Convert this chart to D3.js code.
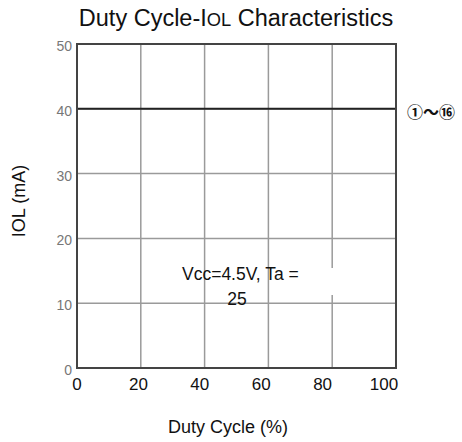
<!DOCTYPE html>
<html><head><meta charset="utf-8">
<script src="https://cdn.jsdelivr.net/npm/d3@7"></script>
<style>body{margin:0;background:#fff}</style>
</head><body>
<svg id="c" width="462" height="442"></svg>
<script>
const xTicks = [0, 20, 40, 60, 80, 100];
const yTicks = [0, 10, 20, 30, 40, 50];
const dutyCycle = [0, 100];
const iol = [40, 40];
const titleParts = [["Duty Cycle-I", 1], ["OL", 0.78], [" Characteristics", 1]];

const svg = d3.select("#c");
const m = {l: 77, r: 396, t: 44, b: 368};
const x = d3.scaleLinear().domain([0, 100]).range([m.l, m.r]);
const xLab = d3.scaleLinear().domain([0, 100]).range([m.l, m.r - 12]);
const y = d3.scaleLinear().domain([0, 50]).range([m.b, m.t]);
const font = "Liberation Sans, Arial, sans-serif";

// grid
svg.append("g").selectAll("line").data(xTicks.slice(1, -1)).join("line")
  .attr("x1", d => x(d)).attr("x2", d => x(d)).attr("y1", m.t).attr("y2", m.b)
  .attr("stroke", "#9a9a9a").attr("stroke-width", 1.5);
svg.append("g").selectAll("line").data(yTicks.slice(1, -1)).join("line")
  .attr("x1", m.l).attr("x2", m.r).attr("y1", d => y(d)).attr("y2", d => y(d))
  .attr("stroke", "#9a9a9a").attr("stroke-width", 1.5);

// data line
const line = d3.line().x((d, i) => x(dutyCycle[i])).y(d => y(d));
svg.append("path").datum(iol).attr("d", line)
  .attr("fill", "none").attr("stroke", "#222").attr("stroke-width", 2);

// frame
svg.append("rect").attr("x", m.l).attr("y", m.t).attr("width", m.r - m.l).attr("height", m.b - m.t)
  .attr("fill", "none").attr("stroke", "#444").attr("stroke-width", 2);

// y tick labels
svg.append("g").selectAll("text").data(yTicks).join("text")
  .attr("x", m.l - 5).attr("y", d => y(d) + 7).attr("text-anchor", "end")
  .attr("font-family", font).attr("font-size", 14).attr("fill", "#777").text(d => d);

// x tick labels
svg.append("g").selectAll("text").data(xTicks).join("text")
  .attr("x", d => xLab(d)).attr("y", 390).attr("text-anchor", "middle")
  .attr("font-family", font).attr("font-size", 17).attr("fill", "#111").text(d => d);

// title
const t = svg.append("text").attr("x", 236).attr("y", 26).attr("text-anchor", "middle")
  .attr("font-family", font).attr("font-size", 23.5).attr("fill", "#111");
t.selectAll("tspan").data(titleParts).join("tspan")
  .attr("font-size", d => 23.5 * d[1]).text(d => d[0]);

// axis titles
svg.append("text").attr("x", 228).attr("y", 433).attr("text-anchor", "middle")
  .attr("font-family", font).attr("font-size", 18).attr("fill", "#111").text("Duty Cycle (%)");
svg.append("text").attr("transform", "translate(25,201) rotate(-90)").attr("text-anchor", "middle")
  .attr("font-family", font).attr("font-size", 18).attr("fill", "#111").text("IOL (mA)");

// annotations
svg.append("text").attr("x", 407).attr("y", 118)
  .attr("font-family", "Noto Sans CJK JP, sans-serif").attr("font-size", 16).attr("font-weight", "bold")
  .attr("fill", "#111").text("①～⑯");
svg.append("text").attr("x", 182).attr("y", 280)
  .attr("font-family", font).attr("font-size", 17.5).attr("fill", "#111").text("Vcc=4.5V, Ta =");
svg.append("rect").attr("x", 308).attr("y", 268).attr("width", 30).attr("height", 27).attr("fill", "#fff");
svg.append("text").attr("x", 237).attr("y", 305).attr("text-anchor", "middle")
  .attr("font-family", font).attr("font-size", 17.5).attr("fill", "#111").text("25");
</script>
</body></html>
